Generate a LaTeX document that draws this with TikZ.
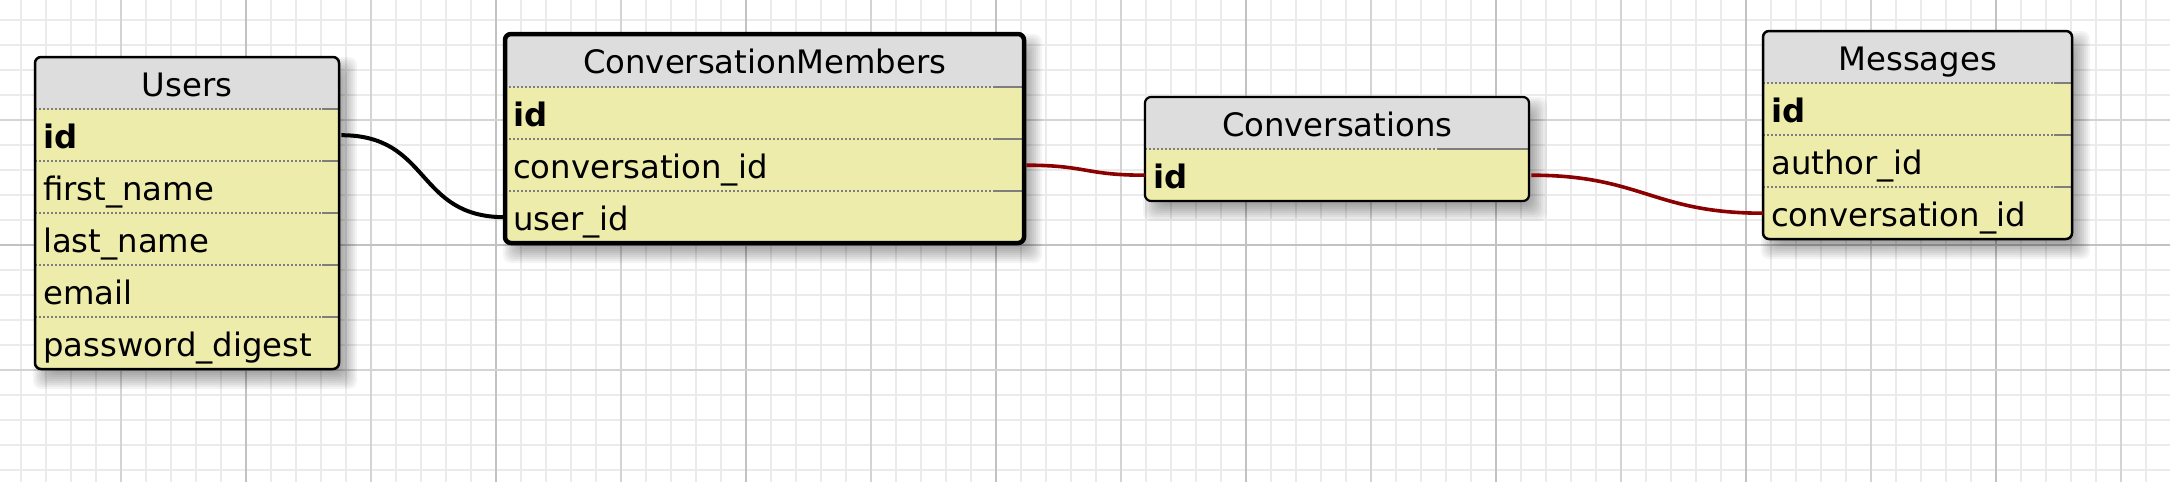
\documentclass[tikz,border=0pt]{standalone}
\usepackage{fontspec}
\setmainfont{DejaVu Sans}
\definecolor{rowfill}{HTML}{EEECAA}
\definecolor{headfill}{HTML}{DDDDDD}
\definecolor{gridminor}{HTML}{EBEBEB}
\definecolor{gridmid}{HTML}{D4D4D4}
\definecolor{gridmajor}{HTML}{C2C2C2}
\definecolor{linkred}{HTML}{8B0000}
\definecolor{sepgray}{HTML}{7E7E7E}
\newcommand\tblframe[5]{% #1 L, #2 R, #3 T, #4 H, #5 B
  \foreach \d in {0,...,10} {
    \fill[black, opacity=0.042, rounded corners=8pt] ({#1-2+2*\d},{#3+2*\d}) rectangle ({#2+18-2*\d},{#5+20-2*\d});
  }
  \fill[rowfill, rounded corners=6pt] (#1,#3) rectangle (#2,#5);
  \begin{scope}
    \clip[rounded corners=6pt] (#1,#3) rectangle (#2,#5);
    \fill[headfill] (#1,#3) rectangle (#2,#4);
  \end{scope}
}
\newcommand\tblsep[3]{% #1 L, #2 R, #3 y ; solid end length via \seplen
  \draw[sepdot] (#1,#3) -- ({#2-\seplen},#3);
  \draw[sepsolid] ({#2-\seplen},#3) -- (#2,#3);
}
\tikzset{
  gminor/.style={draw=gridminor, line width=2pt},
  gmid/.style={draw=gridmid, line width=2pt},
  gmajor/.style={draw=gridmajor, line width=2.2pt},
  cell/.style={inner xsep=8pt, inner ysep=0pt, text height=39pt, text depth=13pt,
    anchor=north west, align=left, font=\fontsize{32.3}{38}\selectfont},
  headcell/.style={cell, align=center},
  sepdot/.style={draw=sepgray, line width=2.2pt, dash pattern=on 2.2pt off 1.8pt},
  sepsolid/.style={draw=sepgray, line width=2.2pt},
  frame/.style={draw=black, rounded corners=6pt},
  blacklink/.style={draw=black, line width=4pt},
  redlink/.style={draw=linkred, line width=3.6pt},
}
\begin{document}
\begin{tikzpicture}[x=1pt,y=-1pt]
\useasboundingbox (0,0) rectangle (2170,482);
\fill[white] (0,0) rectangle (2170,482);
% grid
\foreach \i in {0,...,86} \draw[gminor] ({20.7+25*\i},0) -- ({20.7+25*\i},482);
\foreach \j in {0,...,18} \draw[gminor] (0,{19.5+25*\j}) -- (2170,{19.5+25*\j});
\foreach \i in {0,...,8} \draw[gmid] ({120.7+250*\i},0) -- ({120.7+250*\i},482);
\foreach \i in {0,...,7} \draw[gmajor] ({245.7+250*\i},0) -- ({245.7+250*\i},482);
\draw[gmid] (0,120) -- (2170,120);
\draw[gmid] (0,370) -- (2170,370);
\draw[gmajor] (0,245) -- (2170,245);

% ---------- Users ----------
\tblframe{35}{339}{57}{109}{369}
\def\seplen{17}
\tblsep{35}{339}{109}\tblsep{35}{339}{161}\tblsep{35}{339}{213}\tblsep{35}{339}{265}\tblsep{35}{339}{317}
\node[headcell, text width=288pt] (users) at (35,57) {Users};
\node[cell, text width=288pt] (users-id) at (35,109) {\textbf{id}};
\node[cell, text width=288pt] (users-first) at (35,161) {first\_name};
\node[cell, text width=288pt] (users-last) at (35,213) {last\_name};
\node[cell, text width=288pt] (users-email) at (35,265) {email};
\node[cell, text width=288pt] (users-pw) at (35,317) {password\_digest};
\draw[frame, line width=2.5pt] (35,57) rectangle (339,369);

% ---------- ConversationMembers ----------
\tblframe{505}{1024}{34}{87}{243}
\def\seplen{30}
\tblsep{505}{1024}{87}\tblsep{505}{1024}{139}\tblsep{505}{1024}{191}
\node[headcell, text width=503pt, text depth=14pt] (cm) at (505,34) {ConversationMembers};
\node[cell, text width=503pt] (cm-id) at (505,87) {\textbf{id}};
\node[cell, text width=503pt] (cm-conv) at (505,139) {conversation\_id};
\node[cell, text width=503pt] (cm-user) at (505,191) {user\_id};
\draw[frame, line width=4.5pt] (505,34) rectangle (1024,243);

% ---------- Conversations ----------
\tblframe{1145}{1529}{97}{149}{201}
\def\seplen{90}
\tblsep{1145}{1529}{149}
\node[headcell, text width=368pt] (conv) at (1145,97) {Conversations};
\node[cell, text width=368pt] (conv-id) at (1145,149) {\textbf{id}};
\draw[frame, line width=2.2pt] (1145,97) rectangle (1529,201);

% ---------- Messages ----------
\tblframe{1763}{2072}{31}{83}{239}
\def\seplen{18}
\tblsep{1763}{2072}{83}\tblsep{1763}{2072}{135}\tblsep{1763}{2072}{187}
\node[headcell, text width=293pt] (msg) at (1763,31) {Messages};
\node[cell, text width=293pt] (msg-id) at (1763,83) {\textbf{id}};
\node[cell, text width=293pt] (msg-author) at (1763,135) {author\_id};
\node[cell, text width=293pt] (msg-conv) at (1763,187) {conversation\_id};
\draw[frame, line width=2.5pt] (1763,31) rectangle (2072,239);

% ---------- connectors ----------
\draw[blacklink] ([xshift=2pt]users-id.east) .. controls +(90,0) and +(-90,0) .. (cm-user.west);
\draw[redlink] ([xshift=2pt]cm-conv.east) .. controls +(60,0) and +(-60,0) .. (conv-id.west);
\draw[redlink] ([xshift=2pt]conv-id.east) .. controls +(110,0) and +(-110,0) .. (msg-conv.west);
\end{tikzpicture}
\end{document}
